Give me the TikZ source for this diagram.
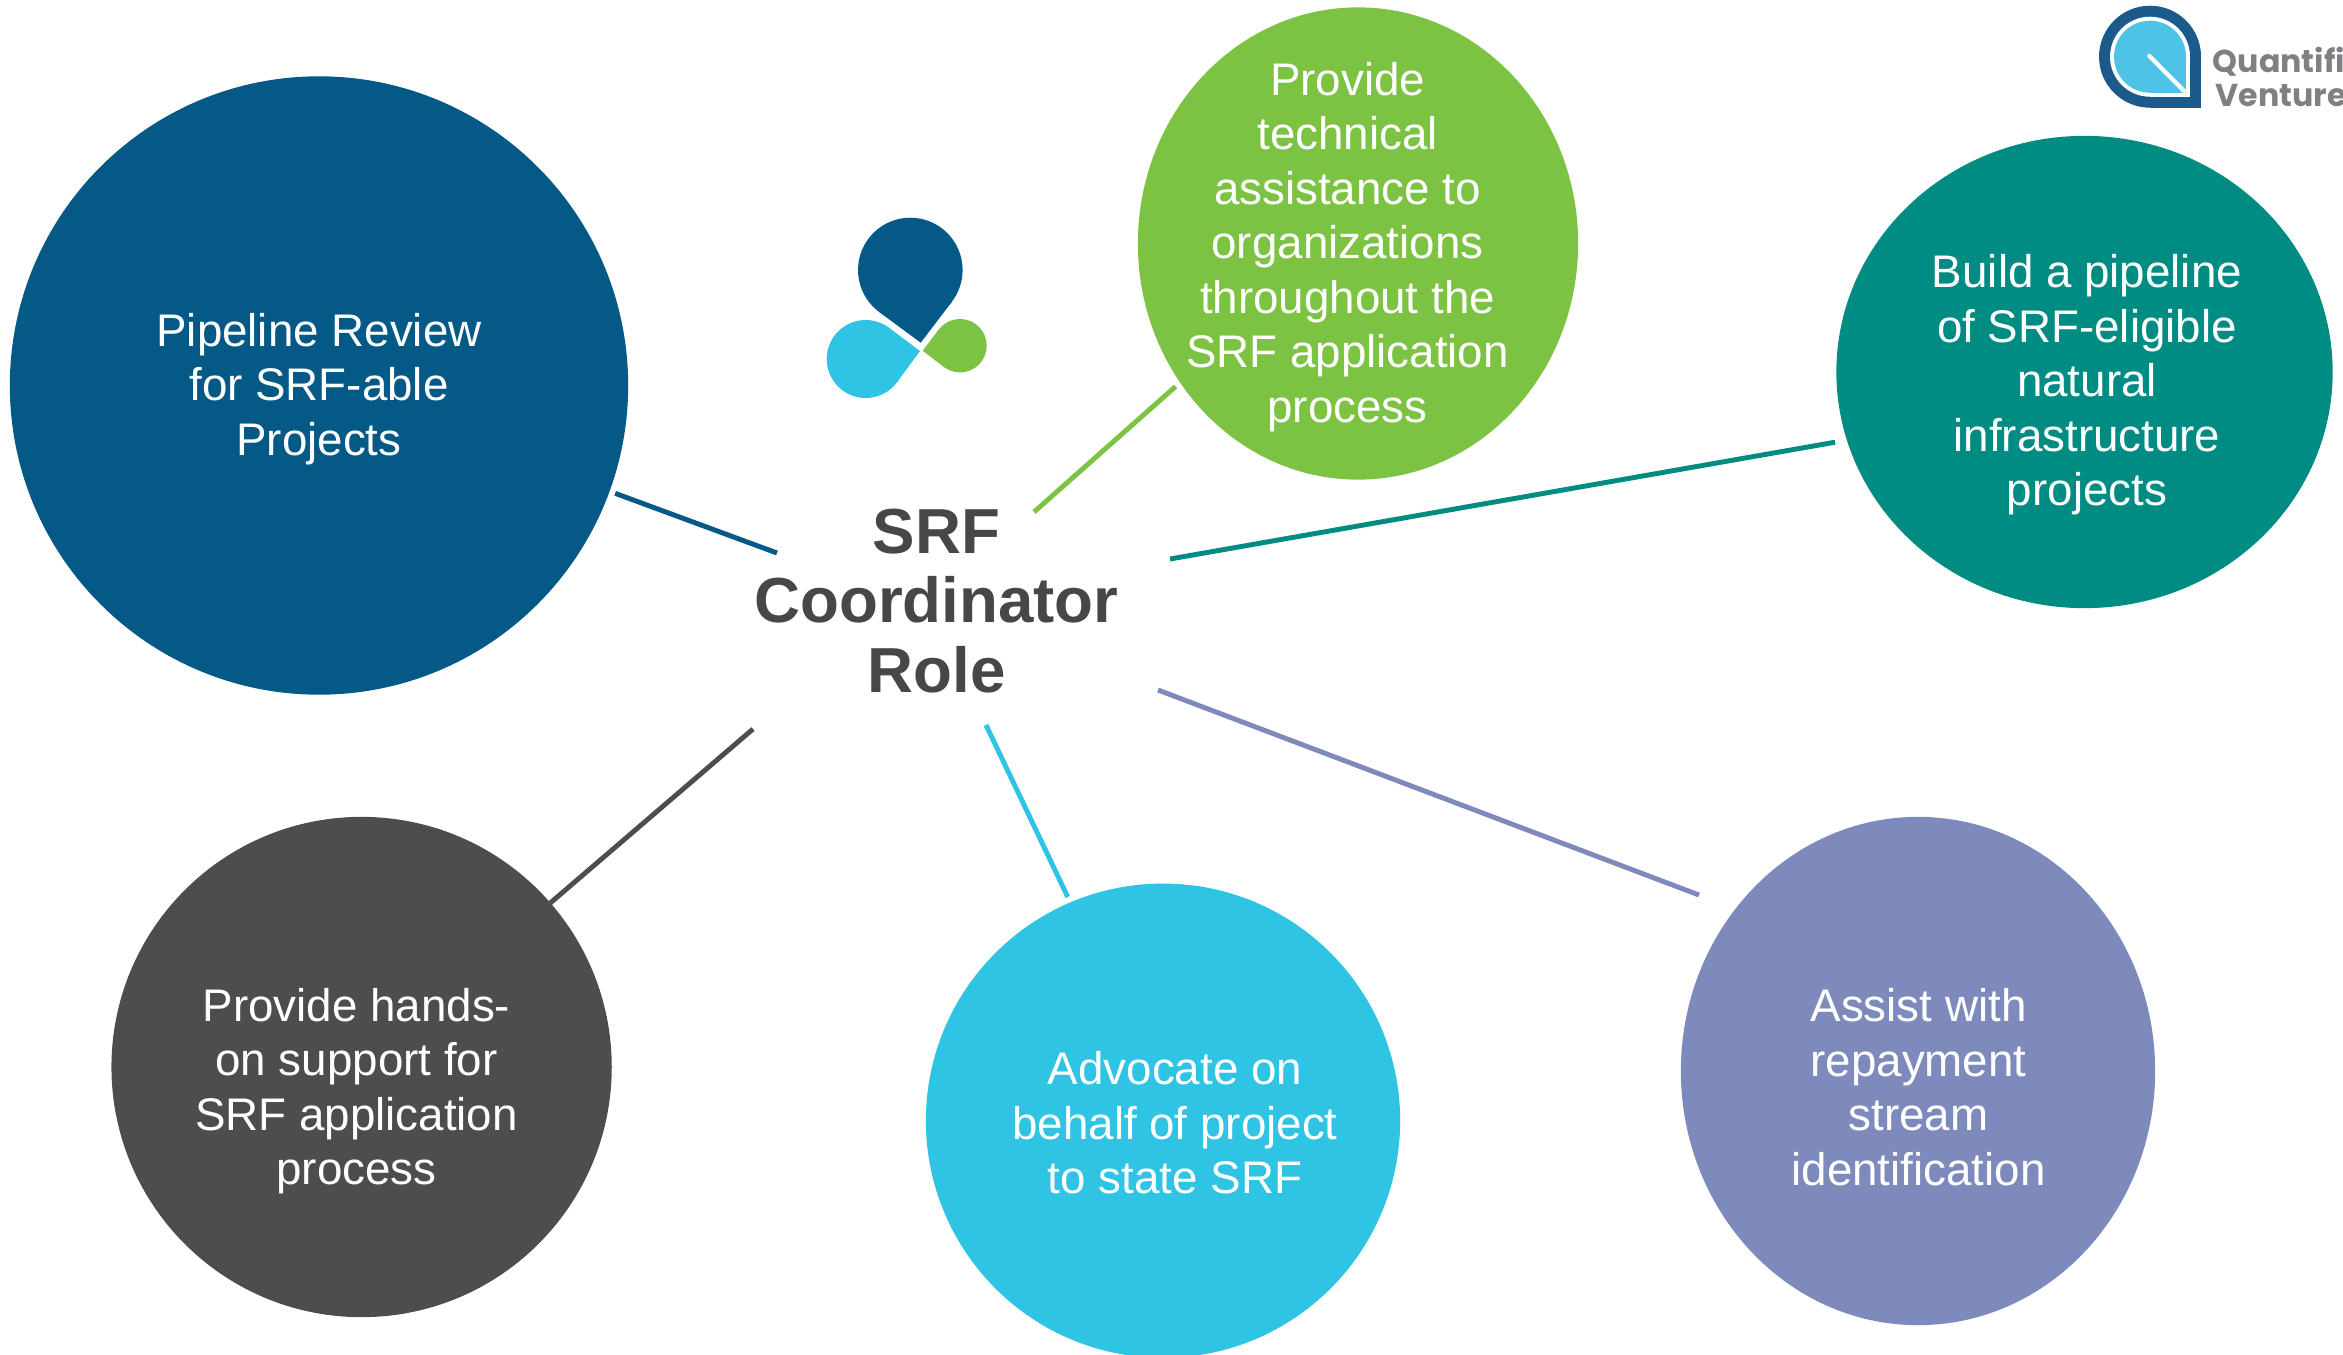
\documentclass[tikz,border=0pt]{standalone}
\usepackage{fontspec}
\usepackage{tikz}
\usetikzlibrary{shapes.geometric}
\setmainfont{Liberation Sans}
\newfontfamily\logofont{Poppins}
\definecolor{srfblue}{HTML}{045986}
\definecolor{srfgreen}{HTML}{7CC243}
\definecolor{srfteal}{HTML}{008C82}
\definecolor{srfgray}{HTML}{4D4D4D}
\definecolor{srfcyan}{HTML}{2FC3E4}
\definecolor{srfpurple}{HTML}{7E8ABB}
\definecolor{roletext}{HTML}{474747}
\definecolor{logoblue}{HTML}{1B5A8A}
\definecolor{logocyan}{HTML}{4FC3E6}
\definecolor{logotext}{HTML}{7F8084}
\tikzset{
  blob/.style={ellipse,inner sep=0pt,outer sep=0pt},
  blobtext/.style={align=center,text=white,inner sep=0pt,font=\fontsize{13}{15.5}\selectfont},
  roletitle/.style={align=center,text=roletext,inner sep=0pt,font=\fontsize{18.1}{19.7}\selectfont\bfseries},
  logotitle/.style={anchor=base west,inner sep=0pt,text=logotext,font=\fontsize{9}{10}\logofont\bfseries},
  link/.style={line width=1.4pt,shorten >=0.06cm}
}
\begin{document}
\begin{tikzpicture}[x=0.01cm,y=-0.01cm]
    \useasboundingbox (0,0) rectangle (2343,1354);
    \clip (0,0) rectangle (2343,1354);
    % circles
    \node[blob,fill=srfblue,minimum width=6.18cm,minimum height=6.18cm] (pipeline) at (319,385.5) {};
    \node[blob,fill=srfgreen,minimum width=4.4cm,minimum height=4.72cm] (assist) at (1358,243.5) {};
    \node[blob,fill=srfteal,minimum width=4.96cm,minimum height=4.72cm] (build) at (2084.5,372) {};
    \node[blob,fill=srfgray,minimum width=5cm,minimum height=5cm] (support) at (361.6,1067) {};
    \node[blob,fill=srfcyan,minimum width=4.74cm,minimum height=4.74cm] (advocate) at (1163,1120.7) {};
    \node[blob,fill=srfpurple,minimum width=4.74cm,minimum height=5.08cm] (repay) at (1918,1071) {};
    % texts
    \node[blobtext] (pipelinetext) at (319,389) {Pipeline Review\\for SRF-able\\Projects};
    \node[blobtext] (assisttext) at (1347.5,247) {Provide\\technical\\assistance to\\organizations\\throughout the\\SRF application\\process};
    \node[blobtext] (buildtext) at (2087,385) {Build a pipeline\\of SRF-eligible\\natural\\infrastructure\\projects};
    \node[blobtext] (supporttext) at (356.5,1091) {Provide hands-\\on support for\\SRF application\\process};
    \node[blobtext] (advocatetext) at (1175,1123) {Advocate on\\behalf of project\\to state SRF};
    \node[blobtext] (repaytext) at (1918.5,1087) {Assist with\\repayment\\stream\\identification};
    \node[roletitle] (role) at (936.5,601) {SRF\\Coordinator\\Role};
    % connectors
    \coordinate (rolea) at (777,553);
    \coordinate (roleb) at (1034,512);
    \coordinate (rolec) at (1170,559);
    \coordinate (roled) at (753,729);
    \coordinate (rolee) at (986,725);
    \coordinate (rolef) at (1158,690);
    \coordinate (repayend) at (1699,895);
    \draw[link,srfblue] (rolea) -- (pipeline.-20.4);
    \draw[link,srfgreen] (roleb) -- (assist.-142);
    \draw[link,srfteal,shorten >=0.12cm] (rolec) -- (build.196.8);
    \draw[link,srfgray,shorten >=0pt] (roled) -- (support.41.9);
    \draw[link,srfcyan] (rolee) -- (advocate.113);
    \draw[link,srfpurple,shorten >=0pt] (rolef) -- (repayend);
    % drops
    \fill[srfblue] (910.3,270) circle[radius=52.3];
    \fill[srfblue] (951.9,301.7) -- (920.7,342.7) -- (879.3,312.1) -- cycle;
    \fill[srfcyan] (865.7,359) circle[radius=39];
    \fill[srfcyan] (889.1,327.9) -- (920,351) -- (897.1,382.1) -- cycle;
    \fill[srfgreen] (960,345.7) circle[radius=26.7];
    \fill[srfgreen] (943.7,366.9) -- (922.7,350.7) -- (938.7,329.6) -- cycle;
    % logo
    \fill[logoblue] (2150,56.7) circle[radius=51];
    \fill[logoblue] (2150,56.7) rectangle (2201,107.7);
    \fill[white] (2150,56.7) circle[radius=40];
    \fill[white] (2150,56.7) rectangle (2190,96.7);
    \fill[logocyan] (2150,56.7) circle[radius=36];
    \fill[logocyan] (2150,56.7) rectangle (2186,92.7);
    \draw[white,line width=1.2pt,line cap=round] (2149.3,56) -- (2184,91);
    \node[logotitle] (logoa) at (2212,72.7) {Quantified};
    \node[logotitle] (logob) at (2215,106.5) {Ventures};
\end{tikzpicture}
\end{document}
